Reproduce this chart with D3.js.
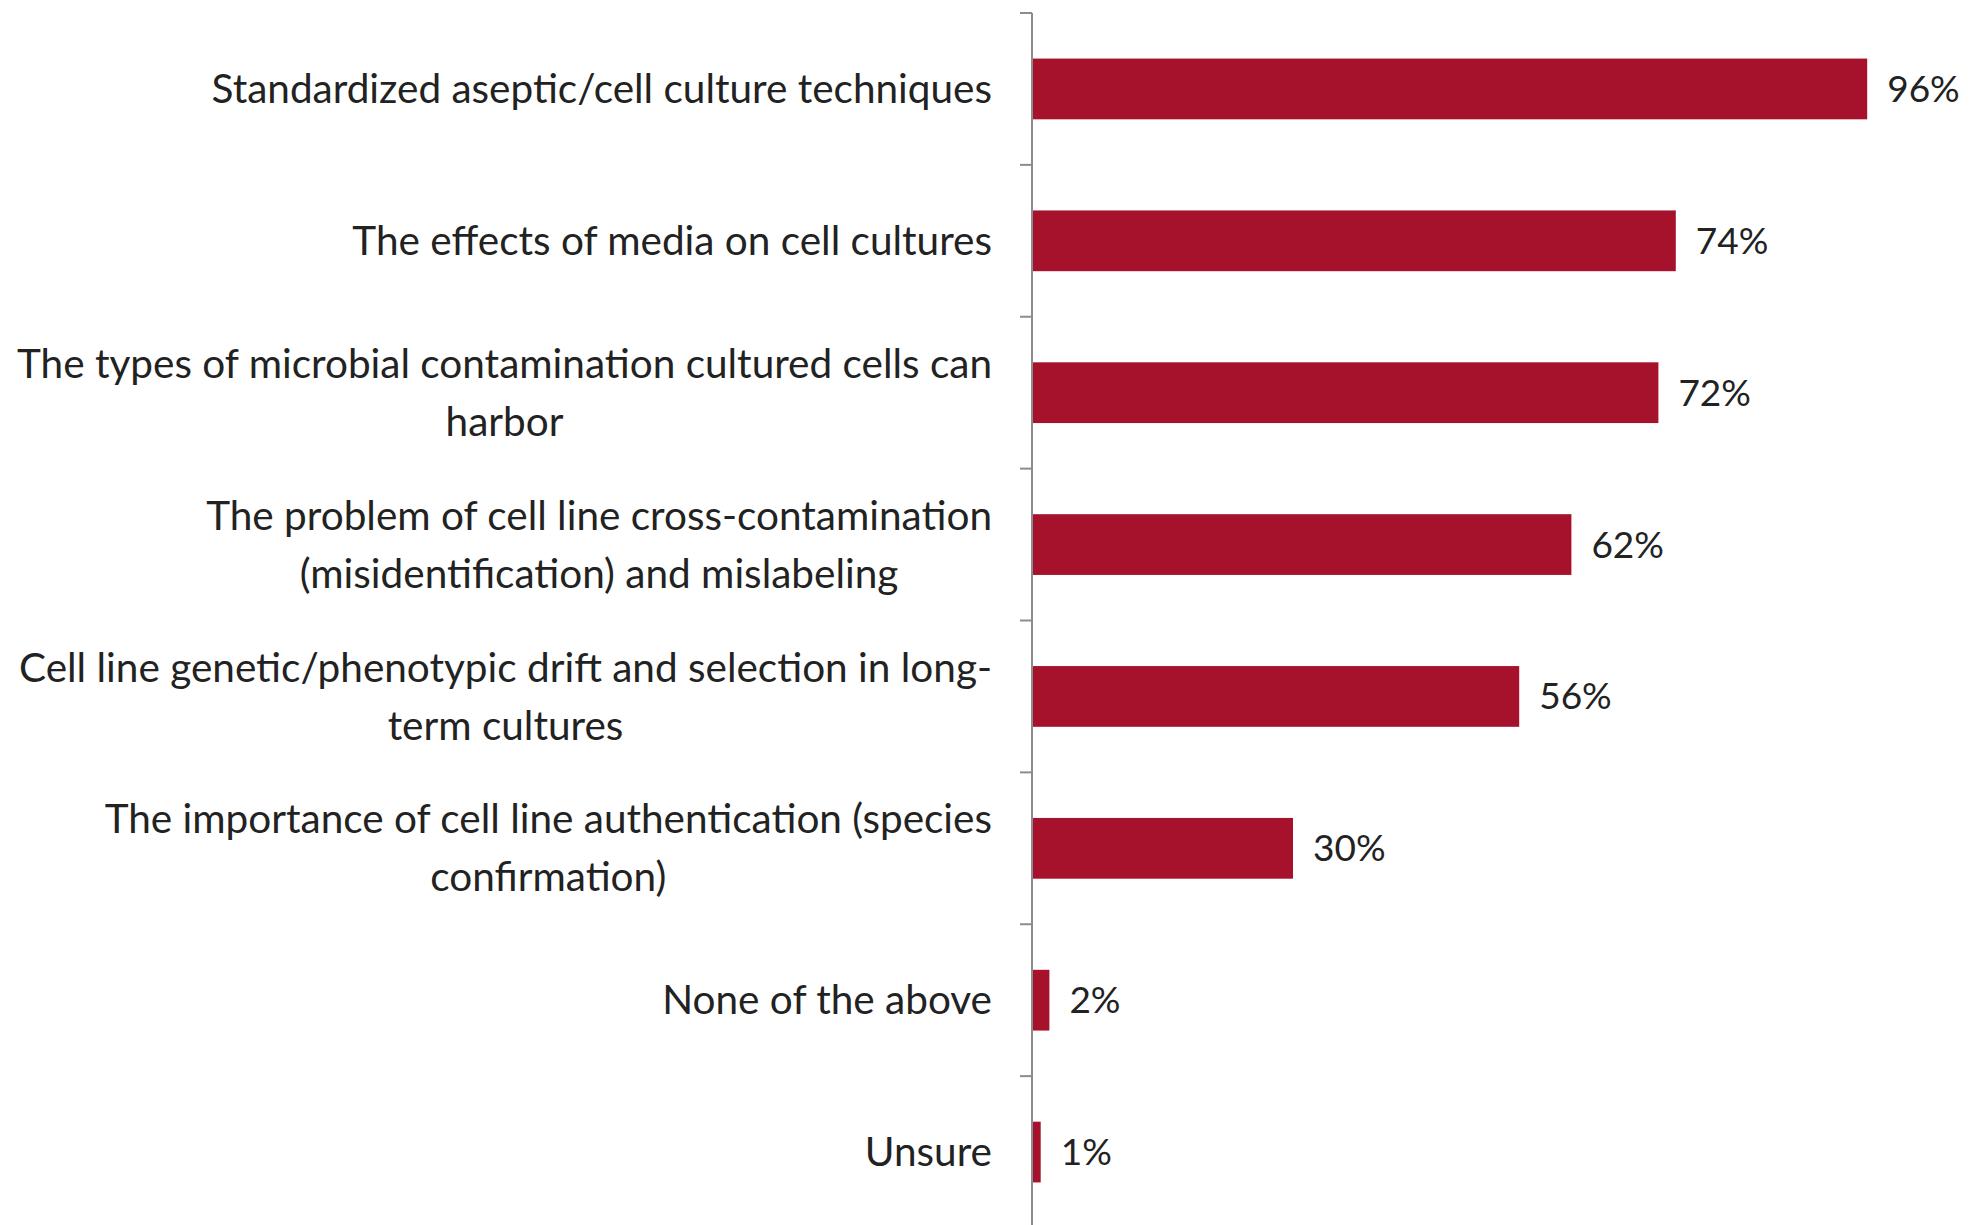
<!DOCTYPE html>
<html>
<head>
<meta charset="utf-8">
<script src="https://cdn.jsdelivr.net/npm/d3@7"></script>
<style>
  body { margin: 0; background: #fff; }
</style>
</head>
<body>
<div id="chart"></div>
<script>
// categories, wrapped the way the original shows them
var categories = [
    "Standardized aseptic/cell culture techniques",
    "The effects of media on cell cultures",
    "The types of microbial contamination cultured cells can\nharbor",
    "The problem of cell line cross-contamination\n(misidentification) and mislabeling",
    "Cell line genetic/phenotypic drift and selection in long-\nterm cultures",
    "The importance of cell line authentication (species\nconfirmation)",
    "None of the above",
    "Unsure"
];
var values = [96, 74, 72, 62, 56, 30, 2, 1];

var width = 1969, height = 1225;
var axisX = 1032;

var svg = d3.select("#chart")
    .append("svg")
    .attr("width", width)
    .attr("height", height);

// X scale (percent)
var x = d3.scaleLinear()
    .domain([0, 100])
    .range([axisX, axisX + 870]);

// Y band scale, one slot per category
var y = d3.scaleBand()
    .domain(categories)
    .range([13, 1228])
    .paddingInner(0.6)
    .paddingOuter(0.3);

var step = y.step();
var slotTop = function(d) { return y(d) - step * 0.3; };

// axis line
svg.append("line")
    .attr("x1", axisX).attr("x2", axisX)
    .attr("y1", 13).attr("y2", height)
    .attr("stroke", "#8c8c8c")
    .attr("stroke-width", 2);

// tick marks at slot boundaries
var bounds = categories.map(slotTop).concat([slotTop(categories[categories.length - 1]) + step]);
svg.selectAll(".tick")
    .data(bounds)
    .enter()
    .append("line")
    .attr("x1", axisX - 12).attr("x2", axisX)
    .attr("y1", function(d) { return d; })
    .attr("y2", function(d) { return d; })
    .attr("stroke", "#8c8c8c")
    .attr("stroke-width", 2);

// bars
svg.selectAll(".bar")
    .data(values)
    .enter()
    .append("rect")
    .attr("x", x(0) + 1)
    .attr("y", function(d, i) { return y(categories[i]); })
    .attr("width", function(d) { return x(d) - x(0) - 1; })
    .attr("height", y.bandwidth())
    .attr("fill", "#a6122b");

// value labels
svg.selectAll(".val")
    .data(values)
    .enter()
    .append("text")
    .attr("x", function(d) { return x(d) + 20; })
    .attr("y", function(d, i) { return y(categories[i]) + y.bandwidth() / 2; })
    .attr("dy", "0.35em")
    .style("font-family", "Lato")
    .style("font-size", "37px")
    .style("fill", "#222")
    .text(function(d) { return d + "%"; });

// category labels, right aligned, multi-line
var lineH = 58;
var labels = svg.selectAll(".cat")
    .data(categories)
    .enter()
    .append("text")
    .attr("text-anchor", "middle")
    .style("font-family", "Lato")
    .style("font-size", "40.5px")
    .style("fill", "#222");

labels.each(function(d) {
    var lines = d.split("\n");
    var cy = y(d) + y.bandwidth() / 2;
    var t = d3.select(this);
    lines.forEach(function(l, j) {
        t.append("tspan")
            .attr("y", cy + (j - (lines.length - 1) / 2) * lineH)
            .attr("dy", "0.35em")
            .text(l);
    });
    // widest line decides where the centred block sits, right edge at 992
    var w = 0;
    t.selectAll("tspan").each(function() { w = Math.max(w, this.getComputedTextLength()); });
    t.selectAll("tspan").attr("x", 992 - w / 2);
});
</script>
</body>
</html>
